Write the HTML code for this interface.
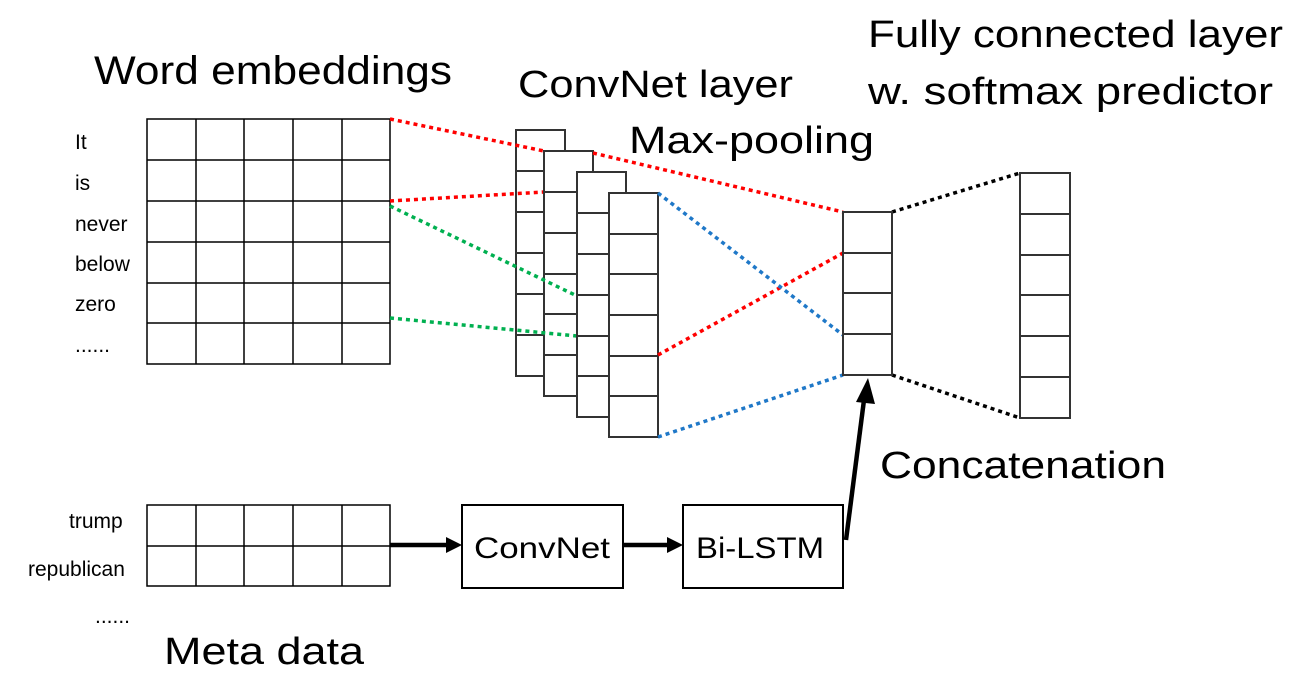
<!DOCTYPE html>
<html><head><meta charset="utf-8"><style>
html,body{margin:0;padding:0;background:#fff;}
svg{display:block;}
text{font-family:"Liberation Sans",sans-serif;fill:#000;}
</style></head><body>
<svg width="1290" height="676" viewBox="0 0 1290 676" xmlns="http://www.w3.org/2000/svg">
<!-- word matrix -->
<g stroke="#000" stroke-width="1.5" fill="#fff">
<rect x="147" y="119" width="243" height="245"/>
<path d="M196 119V364M244 119V364M293 119V364M342 119V364M147 160H390M147 201H390M147 242H390M147 283H390M147 323H390"/>
<rect x="147" y="505" width="243" height="81"/>
<path d="M196 505V586M244 505V586M293 505V586M342 505V586M147 546H390"/>
</g>
<!-- stack 1 -->
<g stroke="#333" stroke-width="2" fill="#fff">
<rect x="516" y="130" width="49" height="246"/>
<path d="M516 171H565M516 212H565M516 253H565M516 294H565M516 335H565"/>
</g>
<g stroke-width="3.5" stroke-dasharray="4,4" fill="none">
<line x1="390" y1="119" x2="544" y2="151" stroke="#ff0000"/>
<line x1="390" y1="201" x2="544" y2="192" stroke="#ff0000"/>
</g>
<g stroke="#333" stroke-width="2" fill="#fff">
<rect x="544" y="151" width="49" height="245"/>
<path d="M544 192H593M544 233H593M544 274H593M544 314H593M544 355H593"/>
</g>
<g stroke-width="3.5" stroke-dasharray="4,4" fill="none">
<line x1="390" y1="206" x2="577" y2="296" stroke="#00b050"/>
<line x1="390" y1="318" x2="577" y2="336" stroke="#00b050"/>
</g>
<g stroke="#333" stroke-width="2" fill="#fff">
<rect x="577" y="172" width="49" height="245"/>
<path d="M577 213H626M577 254H626M577 295H626M577 336H626M577 376H626"/>
<rect x="609" y="193" width="49" height="244"/>
<path d="M609 234H658M609 274H658M609 315H658M609 356H658M609 396H658"/>
</g>
<g stroke-width="3.5" stroke-dasharray="4,4" fill="none">
<line x1="593" y1="153" x2="843" y2="212" stroke="#ff0000"/>
<line x1="658" y1="355" x2="843" y2="253" stroke="#ff0000"/>
<line x1="658" y1="193" x2="843" y2="335" stroke="#1f78c8"/>
<line x1="658" y1="437" x2="843" y2="375" stroke="#1f78c8"/>
<line x1="892" y1="212" x2="1020" y2="173" stroke="#000"/>
<line x1="892" y1="375" x2="1020" y2="418" stroke="#000"/>
</g>
<!-- concat & fc -->
<g stroke="#333" stroke-width="2" fill="#fff">
<rect x="843" y="212" width="49" height="163"/>
<path d="M843 253H892M843 293H892M843 334H892"/>
<rect x="1020" y="173" width="50" height="245"/>
<path d="M1020 214H1070M1020 255H1070M1020 295H1070M1020 336H1070M1020 377H1070"/>
</g>
<!-- boxes -->
<g stroke="#000" stroke-width="2" fill="#fff">
<rect x="462" y="505" width="161" height="83"/>
<rect x="683" y="505" width="160" height="83"/>
</g>
<!-- arrows -->
<g stroke="#000" stroke-width="4.5" fill="none">
<line x1="390" y1="545" x2="450" y2="545"/>
<line x1="623" y1="545" x2="671" y2="545"/>
<line x1="846" y1="540" x2="864" y2="400"/>
</g>
<path d="M462 545 L446 537 L446 553 z" fill="#000"/>
<path d="M683 545 L667 537 L667 553 z" fill="#000"/>
<path d="M868 378 L856 402 L875 404 z" fill="#000"/>
<!-- text -->
<text x="94" y="84" font-size="40" textLength="358" lengthAdjust="spacingAndGlyphs">Word embeddings</text>
<text x="518" y="97" font-size="38" textLength="275" lengthAdjust="spacingAndGlyphs">ConvNet layer</text>
<text x="629" y="153" font-size="38" textLength="245" lengthAdjust="spacingAndGlyphs">Max-pooling</text>
<text x="868" y="47" font-size="38" textLength="415" lengthAdjust="spacingAndGlyphs">Fully connected layer</text>
<text x="868" y="104" font-size="38" textLength="405" lengthAdjust="spacingAndGlyphs">w. softmax predictor</text>
<text x="880" y="478" font-size="38" textLength="286" lengthAdjust="spacingAndGlyphs">Concatenation</text>
<text x="164" y="664" font-size="38" textLength="200" lengthAdjust="spacingAndGlyphs">Meta data</text>
<text x="474" y="558" font-size="30" textLength="136" lengthAdjust="spacingAndGlyphs">ConvNet</text>
<text x="696" y="558" font-size="30" textLength="128" lengthAdjust="spacingAndGlyphs">Bi-LSTM</text>
<g font-size="21">
<text x="75" y="149">It</text>
<text x="75" y="190">is</text>
<text x="75" y="231">never</text>
<text x="75" y="271">below</text>
<text x="75" y="311">zero</text>
<text x="75" y="352">......</text>
<text x="69" y="528">trump</text>
<text x="28" y="576">republican</text>
<text x="95" y="623">......</text>
</g>
</svg>
</body></html>
